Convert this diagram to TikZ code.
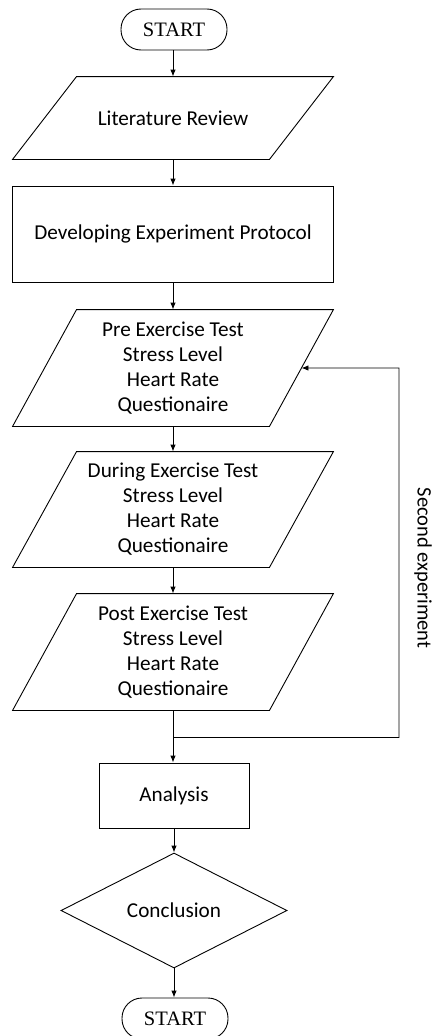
\documentclass[tikz,border=0pt]{standalone}
\usepackage{fontspec}
\setmainfont{Carlito}
\newfontfamily\termfont{Liberation Serif}
\usetikzlibrary{arrows.meta,shapes.geometric,calc}
\begin{document}
\begin{tikzpicture}[x=1pt,y=1pt,line width=0.9pt,
  term/.style={draw,rounded corners=20pt,minimum width=106pt,minimum height=41pt,inner sep=0pt,
    font=\termfont\fontsize{20.5}{22}\selectfont},
  io/.style={minimum width=320pt,inner sep=0pt,align=center,
    font=\fontsize{21.2}{25}\selectfont},
  proc/.style={draw,inner sep=0pt,align=center,font=\fontsize{21.2}{25}\selectfont},
  flow/.style={-{Latex[length=7pt,width=5.5pt]}}]
\useasboundingbox (0,0) rectangle (433,-1036);
\fill[white] (0,0) rectangle (433,-1036);
\node[term] (s) at (174,-29.5) {START};
\node[io,minimum height=82pt] (lit) at (173,-118) {Literature Review};
\node[proc,minimum width=321pt,minimum height=96pt] (dev) at (173,-234) {Developing Experiment Protocol};
\node[io,minimum height=116pt] (pre) at (173,-368) {Pre Exercise Test\\Stress Level\\Heart Rate\\Questionaire};
\node[io,minimum height=115pt] (dur) at (173,-509.5) {During Exercise Test\\Stress Level\\Heart Rate\\Questionaire};
\node[io,minimum height=116pt] (post) at (173,-652) {Post Exercise Test\\Stress Level\\Heart Rate\\Questionaire};
\node[proc,minimum width=150pt,minimum height=65pt] (ana) at (174,-795.5) {Analysis};
\node[draw,diamond,minimum width=226pt,minimum height=115pt,inner sep=0pt,
  font=\fontsize{21.2}{25}\selectfont] (con) at (174,-910.5) {Conclusion};
\node[term] (e) at (175,-1018.5) {START};
\foreach \n in {lit,pre,dur,post}
  \draw (\n.south west) -- ($(\n.north west)+(64,0)$) -- (\n.north east) -- ($(\n.south east)-(64,0)$) -- cycle;
\node[rotate=-90,font=\fontsize{20.5}{25}\selectfont] (lbl) at (423,-568) {Second experiment};
\draw[flow] (s.south -| lit.north) -- (lit.north);
\draw[flow] (lit.south) -- (dev.north);
\draw[flow] (dev.south) -- (pre.north);
\draw[flow] (pre.south) -- (dur.north);
\draw[flow] (dur.south) -- (post.north);
\coordinate (j) at ($(post.south)+(0,-27)$);
\draw (post.south) -- (j);
\draw[flow] (j) -- (j |- ana.north);
\coordinate (r) at (399,-368);
\coordinate (pe) at ($(pre.north east)!0.5!($(pre.south east)-(64,0)$)$);
\draw[flow] (j) -| (r) -- (pe);
\draw[flow] (ana.south -| con.north) -- (con.north);
\draw[flow] (con.south) -- (con.south |- e.north);
\end{tikzpicture}
\end{document}
